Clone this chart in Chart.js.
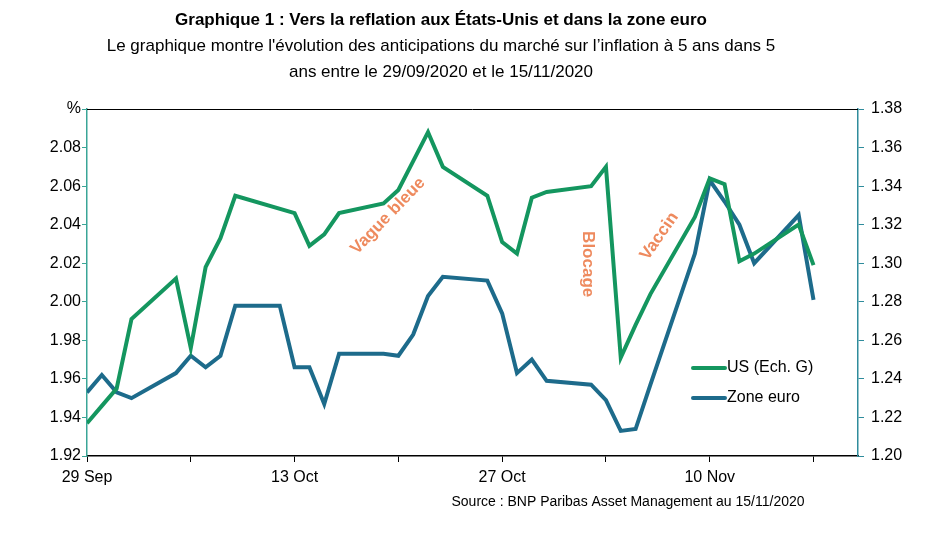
<!DOCTYPE html>
<html>
<head>
<meta charset="utf-8">
<script src="https://cdn.jsdelivr.net/npm/chart.js@4/dist/chart.umd.min.js"></script>
<style>
  body { margin: 0; background: #fff; }
  #wrap { width: 945px; height: 534px; position: relative; }
</style>
</head>
<body>
<div id="wrap"><canvas id="chart"></canvas></div>
<script>
// business days shown on the chart
const dates = [
  '2020-09-29', '2020-09-30', '2020-10-01', '2020-10-02', '2020-10-05', '2020-10-06',
  '2020-10-07', '2020-10-08', '2020-10-09', '2020-10-12', '2020-10-13', '2020-10-14',
  '2020-10-15', '2020-10-16', '2020-10-19', '2020-10-20', '2020-10-21', '2020-10-22',
  '2020-10-23', '2020-10-26', '2020-10-27', '2020-10-28', '2020-10-29', '2020-10-30',
  '2020-11-02', '2020-11-03', '2020-11-04', '2020-11-05', '2020-11-06', '2020-11-09',
  '2020-11-10', '2020-11-11', '2020-11-12', '2020-11-13', '2020-11-16', '2020-11-17'
];

// US 5y5y inflation expectations (left axis, %)
const usValues = [
  1.937, 1.946, 1.955, 1.991, 2.012, 1.976,
  2.018, 2.033, 2.055, null, 2.046, 2.029,
  2.035, 2.046, 2.051, 2.058, 2.073, 2.088,
  2.070, 2.055, 2.031, 2.025, 2.054, 2.057,
  2.060, 2.070, 1.971, 1.988, 2.004, 2.044,
  2.064, 2.061, 2.021, 2.025, 2.040, 2.019
];

// euro area 5y5y inflation expectations (right axis)
const euroValues = [
  1.233, 1.242, 1.233, 1.230, 1.243, 1.252,
  1.246, 1.252, 1.278, 1.278, 1.246, 1.246,
  1.227, 1.253, 1.253, 1.252, 1.263, 1.283,
  1.293, 1.291, 1.274, 1.243, 1.250, 1.239,
  1.237, 1.229, 1.213, 1.214, 1.237, 1.305,
  1.343, 1.332, 1.320, 1.300, 1.325, 1.281
];

const seriesLabels = ['US (Ech. G)', 'Zone euro'];
const seriesColors = ['#14965f', '#1d6b8b'];

const xTickLabels = ['29 Sep', '13 Oct', '27 Oct', '10 Nov'];
const xTickEvery = 14;   // days between labelled ticks
const xDaysShown = 52;   // axis runs to 20 Nov

const leftMin = 1.92, leftMax = 2.10;
const rightMin = 1.20, rightMax = 1.38;

// event labels: day since 29 Sep, level on the left axis
const noteTexts = ['Vague bleue', 'Blocage', 'Vaccin'];
const noteDays = [20.3, 33.8, 38.6];
const noteLevels = [2.0445, 2.0195, 2.034];
const noteAngles = [-46, 90, -55];

const start = Date.UTC(2020, 8, 29);
const dayOf = d => {
  const p = d.split('-').map(Number);
  return Math.round((Date.UTC(p[0], p[1] - 1, p[2]) - start) / 86400000);
};

const days = dates.map(dayOf);
const usPoints = days.map((d, i) => ({ x: d, y: usValues[i] }));
const euroPoints = days.map((d, i) => ({ x: d, y: euroValues[i] }));

const sans = "'Liberation Sans', Arial, sans-serif";

const extras = {
  id: 'extras',
  afterDraw(chart) {
    const { ctx, chartArea: a, scales } = chart;
    ctx.save();

    // top frame line
    ctx.strokeStyle = '#000';
    ctx.lineWidth = 1;
    ctx.beginPath();
    ctx.moveTo(a.left, a.top + 0.5);
    ctx.lineTo(a.right, a.top + 0.5);
    ctx.stroke();

    // titles
    ctx.fillStyle = '#000';
    ctx.textAlign = 'center';
    ctx.textBaseline = 'middle';
    ctx.font = "bold 17px " + sans;
    ctx.fillText('Graphique 1 : Vers la reflation aux États-Unis et dans la zone euro', 441, 20);
    ctx.font = "17px " + sans;
    ctx.fillText("Le graphique montre l'évolution des anticipations du marché sur l’inflation à 5 ans dans 5", 441, 46);
    ctx.fillText('ans entre le 29/09/2020 et le 15/11/2020', 441, 72);

    // source
    ctx.font = "14px " + sans;
    ctx.fillText('Source : BNP Paribas Asset Management au 15/11/2020', 628, 502);

    // legend
    ctx.textAlign = 'left';
    ctx.font = "16px " + sans;
    chart.data.datasets.forEach((ds, i) => {
      const y = 368 + i * 30;
      ctx.strokeStyle = ds.borderColor;
      ctx.lineWidth = 4;
      ctx.lineCap = 'round';
      ctx.beginPath();
      ctx.moveTo(693, y);
      ctx.lineTo(725, y);
      ctx.stroke();
      ctx.fillStyle = '#000';
      ctx.fillText(ds.label, 727, y);
    });

    // event annotations
    ctx.fillStyle = '#ee8a5e';
    ctx.font = "bold 17px " + sans;
    ctx.textAlign = 'center';
    noteTexts.forEach((t, i) => {
      const x = scales.x.getPixelForValue(noteDays[i]);
      const y = scales.y.getPixelForValue(noteLevels[i]);
      ctx.save();
      ctx.translate(x, y);
      ctx.rotate(noteAngles[i] * Math.PI / 180);
      ctx.fillText(t, 0, 0);
      ctx.restore();
    });

    ctx.restore();
  }
};

new Chart(document.getElementById('chart'), {
  type: 'line',
  data: {
    datasets: [
      {
        label: seriesLabels[0],
        data: usPoints,
        borderColor: seriesColors[0],
        borderWidth: 4,
        pointRadius: 0,
        spanGaps: true,
        yAxisID: 'y'
      },
      {
        label: seriesLabels[1],
        data: euroPoints,
        borderColor: seriesColors[1],
        borderWidth: 4,
        pointRadius: 0,
        spanGaps: true,
        yAxisID: 'y1'
      }
    ]
  },
  options: {
    responsive: true,
    maintainAspectRatio: false,
    animation: false,
    layout: { padding: { top: 109, left: 0, right: 0, bottom: 0 } },
    plugins: {
      legend: { display: false },
      tooltip: { enabled: false }
    },
    scales: {
      x: {
        type: 'linear',
        min: 0,
        max: xDaysShown,
        afterBuildTicks: s => {
          s.ticks = [];
          for (let d = 0; d <= xDaysShown; d += 7) s.ticks.push({ value: d });
        },
        afterFit: s => { s.height = 78; },
        grid: { drawOnChartArea: false, color: '#000', tickLength: 6 },
        border: { color: '#000', width: 1.5 },
        ticks: {
          maxRotation: 0,
          padding: 6,
          color: '#000',
          font: { family: sans, size: 16 },
          callback: v => (v % xTickEvery === 0 ? xTickLabels[v / xTickEvery] || '' : '')
        }
      },
      y: {
        position: 'left',
        min: leftMin,
        max: leftMax,
        afterBuildTicks: s => {
          s.ticks = [];
          for (let k = 0; k <= 18; k++) s.ticks.push({ value: leftMin + k * 0.01 });
        },
        afterFit: s => { s.width = 87; },
        grid: { drawOnChartArea: false, color: '#3aa597', tickLength: 5 },
        border: { color: '#3aa597', width: 1.5 },
        ticks: {
          color: '#000',
          padding: 1,
          font: { family: sans, size: 16 },
          callback: v => {
            const c = Math.round(v * 100);
            if (c === 210) return '%';
            return c % 2 === 0 ? (c / 100).toFixed(2) : '';
          }
        }
      },
      y1: {
        position: 'right',
        min: rightMin,
        max: rightMax,
        afterBuildTicks: s => {
          s.ticks = [];
          for (let k = 0; k <= 9; k++) s.ticks.push({ value: rightMin + k * 0.02 });
        },
        afterFit: s => { s.width = 87; },
        grid: { drawOnChartArea: false, color: '#2f8c9c', tickLength: 6 },
        border: { color: '#2f8c9c', width: 1.5 },
        ticks: {
          color: '#000',
          padding: 7,
          font: { family: sans, size: 16 },
          callback: v => v.toFixed(2)
        }
      }
    }
  },
  plugins: [extras]
});
</script>
</body>
</html>
